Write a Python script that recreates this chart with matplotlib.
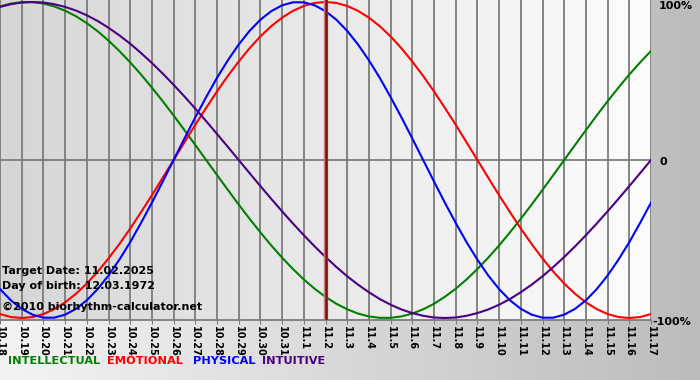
import matplotlib
matplotlib.use("Agg")
import matplotlib.pyplot as plt
import numpy as np

# days shown on the x axis (month.day)
dates = ["10.18", "10.19", "10.20", "10.21", "10.22", "10.23", "10.24", "10.25",
         "10.26", "10.27", "10.28", "10.29", "10.30", "10.31", "11.1", "11.2",
         "11.3", "11.4", "11.5", "11.6", "11.7", "11.8", "11.9", "11.10",
         "11.11", "11.12", "11.13", "11.14", "11.15", "11.16", "11.17"]
target_idx = 15  # 11.2

# curve values every half day (-1 .. 1), 10.18 -> 11.17
intellectual = [0.972, 0.990, 0.999, 0.999, 0.990, 0.972, 0.945, 0.910, 0.866, 0.815,
                0.756, 0.690, 0.618, 0.541, 0.458, 0.372, 0.282, 0.189, 0.095, 0.0,
                -0.095, -0.189, -0.282, -0.372, -0.458, -0.541, -0.618, -0.690, -0.756, -0.815,
                -0.866, -0.910, -0.945, -0.972, -0.990, -0.999, -0.999, -0.990, -0.972, -0.945,
                -0.910, -0.866, -0.815, -0.756, -0.690, -0.618, -0.541, -0.458, -0.372, -0.282,
                -0.189, -0.095, 0.0, 0.095, 0.189, 0.282, 0.372, 0.458, 0.541, 0.618, 0.690]
emotional = [-0.975, -0.994, -1.0, -0.994, -0.975, -0.944, -0.901, -0.847, -0.782, -0.707,
             -0.623, -0.532, -0.434, -0.330, -0.223, -0.112, 0.0, 0.112, 0.223, 0.330,
             0.434, 0.532, 0.623, 0.707, 0.782, 0.847, 0.901, 0.944, 0.975, 0.994,
             1.0, 0.994, 0.975, 0.944, 0.901, 0.847, 0.782, 0.707, 0.623, 0.532,
             0.434, 0.330, 0.223, 0.112, 0.0, -0.112, -0.223, -0.330, -0.434, -0.532,
             -0.623, -0.707, -0.782, -0.847, -0.901, -0.944, -0.975, -0.994, -1.0, -0.994, -0.975]
physical = [-0.817, -0.888, -0.942, -0.979, -0.998, -0.998, -0.979, -0.942, -0.888, -0.817,
            -0.731, -0.631, -0.520, -0.398, -0.270, -0.136, 0.0, 0.136, 0.270, 0.398,
            0.520, 0.631, 0.731, 0.817, 0.888, 0.942, 0.979, 0.998, 0.998, 0.979,
            0.942, 0.888, 0.817, 0.731, 0.631, 0.520, 0.398, 0.270, 0.136, 0.0,
            -0.136, -0.270, -0.398, -0.520, -0.631, -0.731, -0.817, -0.888, -0.942, -0.979,
            -0.998, -0.998, -0.979, -0.942, -0.888, -0.817, -0.731, -0.631, -0.520, -0.398, -0.270]
intuitive = [0.969, 0.986, 0.997, 1.0, 0.997, 0.986, 0.969, 0.946, 0.916, 0.880,
             0.837, 0.789, 0.736, 0.677, 0.614, 0.547, 0.476, 0.402, 0.325, 0.246,
             0.165, 0.083, 0.0, -0.083, -0.165, -0.246, -0.325, -0.402, -0.476, -0.547,
             -0.614, -0.677, -0.736, -0.789, -0.837, -0.880, -0.916, -0.946, -0.969, -0.986,
             -0.997, -1.0, -0.997, -0.986, -0.969, -0.946, -0.916, -0.880, -0.837, -0.789,
             -0.736, -0.677, -0.614, -0.547, -0.476, -0.402, -0.325, -0.246, -0.165, -0.083, 0.0]

series_names = ["INTELLECTUAL", "EMOTIONAL", "PHYSICAL", "INTUITIVE"]
series_colors = ["#008000", "#ff0000", "#0000ff", "#4b0082"]

W, H = 700, 380
fig = plt.figure(figsize=(W / 100, H / 100), dpi=100)

# background gradient over the whole figure
bg = fig.add_axes([0, 0, 1, 1], zorder=-2)
bg.imshow(np.linspace(0, 1, 256)[None, :], cmap=matplotlib.colors.LinearSegmentedColormap.from_list(
    "bg", ["#f4f4f4", "#bcbcbc"]), aspect="auto", extent=[0, 1, 0, 1])
bg.set_axis_off()

plot_w, plot_h = 651, 320
ax = fig.add_axes([0, (H - plot_h) / H, plot_w / W, plot_h / H])
x = np.arange(len(dates))
xs = np.arange(len(intellectual)) / 2.0  # half-day steps
ylim = 1.0127
ax.imshow(np.linspace(0, 1, 256)[None, :], cmap=matplotlib.colors.LinearSegmentedColormap.from_list(
    "pa", ["#d6d6d6", "#fdfdfd"]), aspect="auto", extent=[0, len(dates) - 1, -ylim, ylim], zorder=0)
ax.set_xlim(0, len(dates) - 1)
ax.set_ylim(-ylim, ylim)

for xi in x:
    ax.axvline(xi, color="#7c7c7c", lw=1.3, zorder=1)
ax.axhline(0, color="#7c7c7c", lw=1.3, zorder=1)

for vals, c in zip([intellectual, emotional, physical, intuitive], series_colors):
    ax.plot(xs, vals, color=c, lw=1.5, zorder=3, solid_joinstyle="round")

ax.axvline(target_idx, color="#d08080", lw=3.2, zorder=4)
ax.axvline(target_idx, color="#7a1212", lw=1.8, zorder=5)

for s in ["top", "right", "left"]:
    ax.spines[s].set_visible(False)
ax.spines["bottom"].set_color("#7c7c7c")
ax.spines["bottom"].set_linewidth(1.3)
ax.set_xticks(x)
ax.set_xticklabels(dates, rotation=270, fontsize=7, fontweight="bold")
ax.tick_params(axis="x", length=3, color="#7c7c7c", pad=1)
ax.set_yticks([])

fs = 8
ax.text(2 / plot_w, (plot_h - 271) / plot_h, "Target Date: 11.02.2025", transform=ax.transAxes,
        fontsize=fs, fontweight="bold", va="center", ha="left", zorder=6)
ax.text(2 / plot_w, (plot_h - 286) / plot_h, "Day of birth: 12.03.1972", transform=ax.transAxes,
        fontsize=fs, fontweight="bold", va="center", ha="left", zorder=6)
ax.text(2 / plot_w, (plot_h - 307) / plot_h, "\u00a92010 biorhythm-calculator.net", transform=ax.transAxes,
        fontsize=fs, fontweight="bold", va="center", ha="left", zorder=6)

fig.text(659 / W, 1 - 6 / H, "100%", fontsize=fs, fontweight="bold", va="center", ha="left")
fig.text(659 / W, 1 - 162 / H, "0", fontsize=fs, fontweight="bold", va="center", ha="left")
fig.text(652 / W, 1 - 322 / H, "-100%", fontsize=fs, fontweight="bold", va="center", ha="left")

legend_x = [8, 107, 193, 262]
for name, c, lx in zip(series_names, series_colors, legend_x):
    fig.text(lx / W, 1 - 361 / H, name, color=c, fontsize=8.2, fontweight="bold", va="center", ha="left")

fig.savefig("out.png", dpi=100)
